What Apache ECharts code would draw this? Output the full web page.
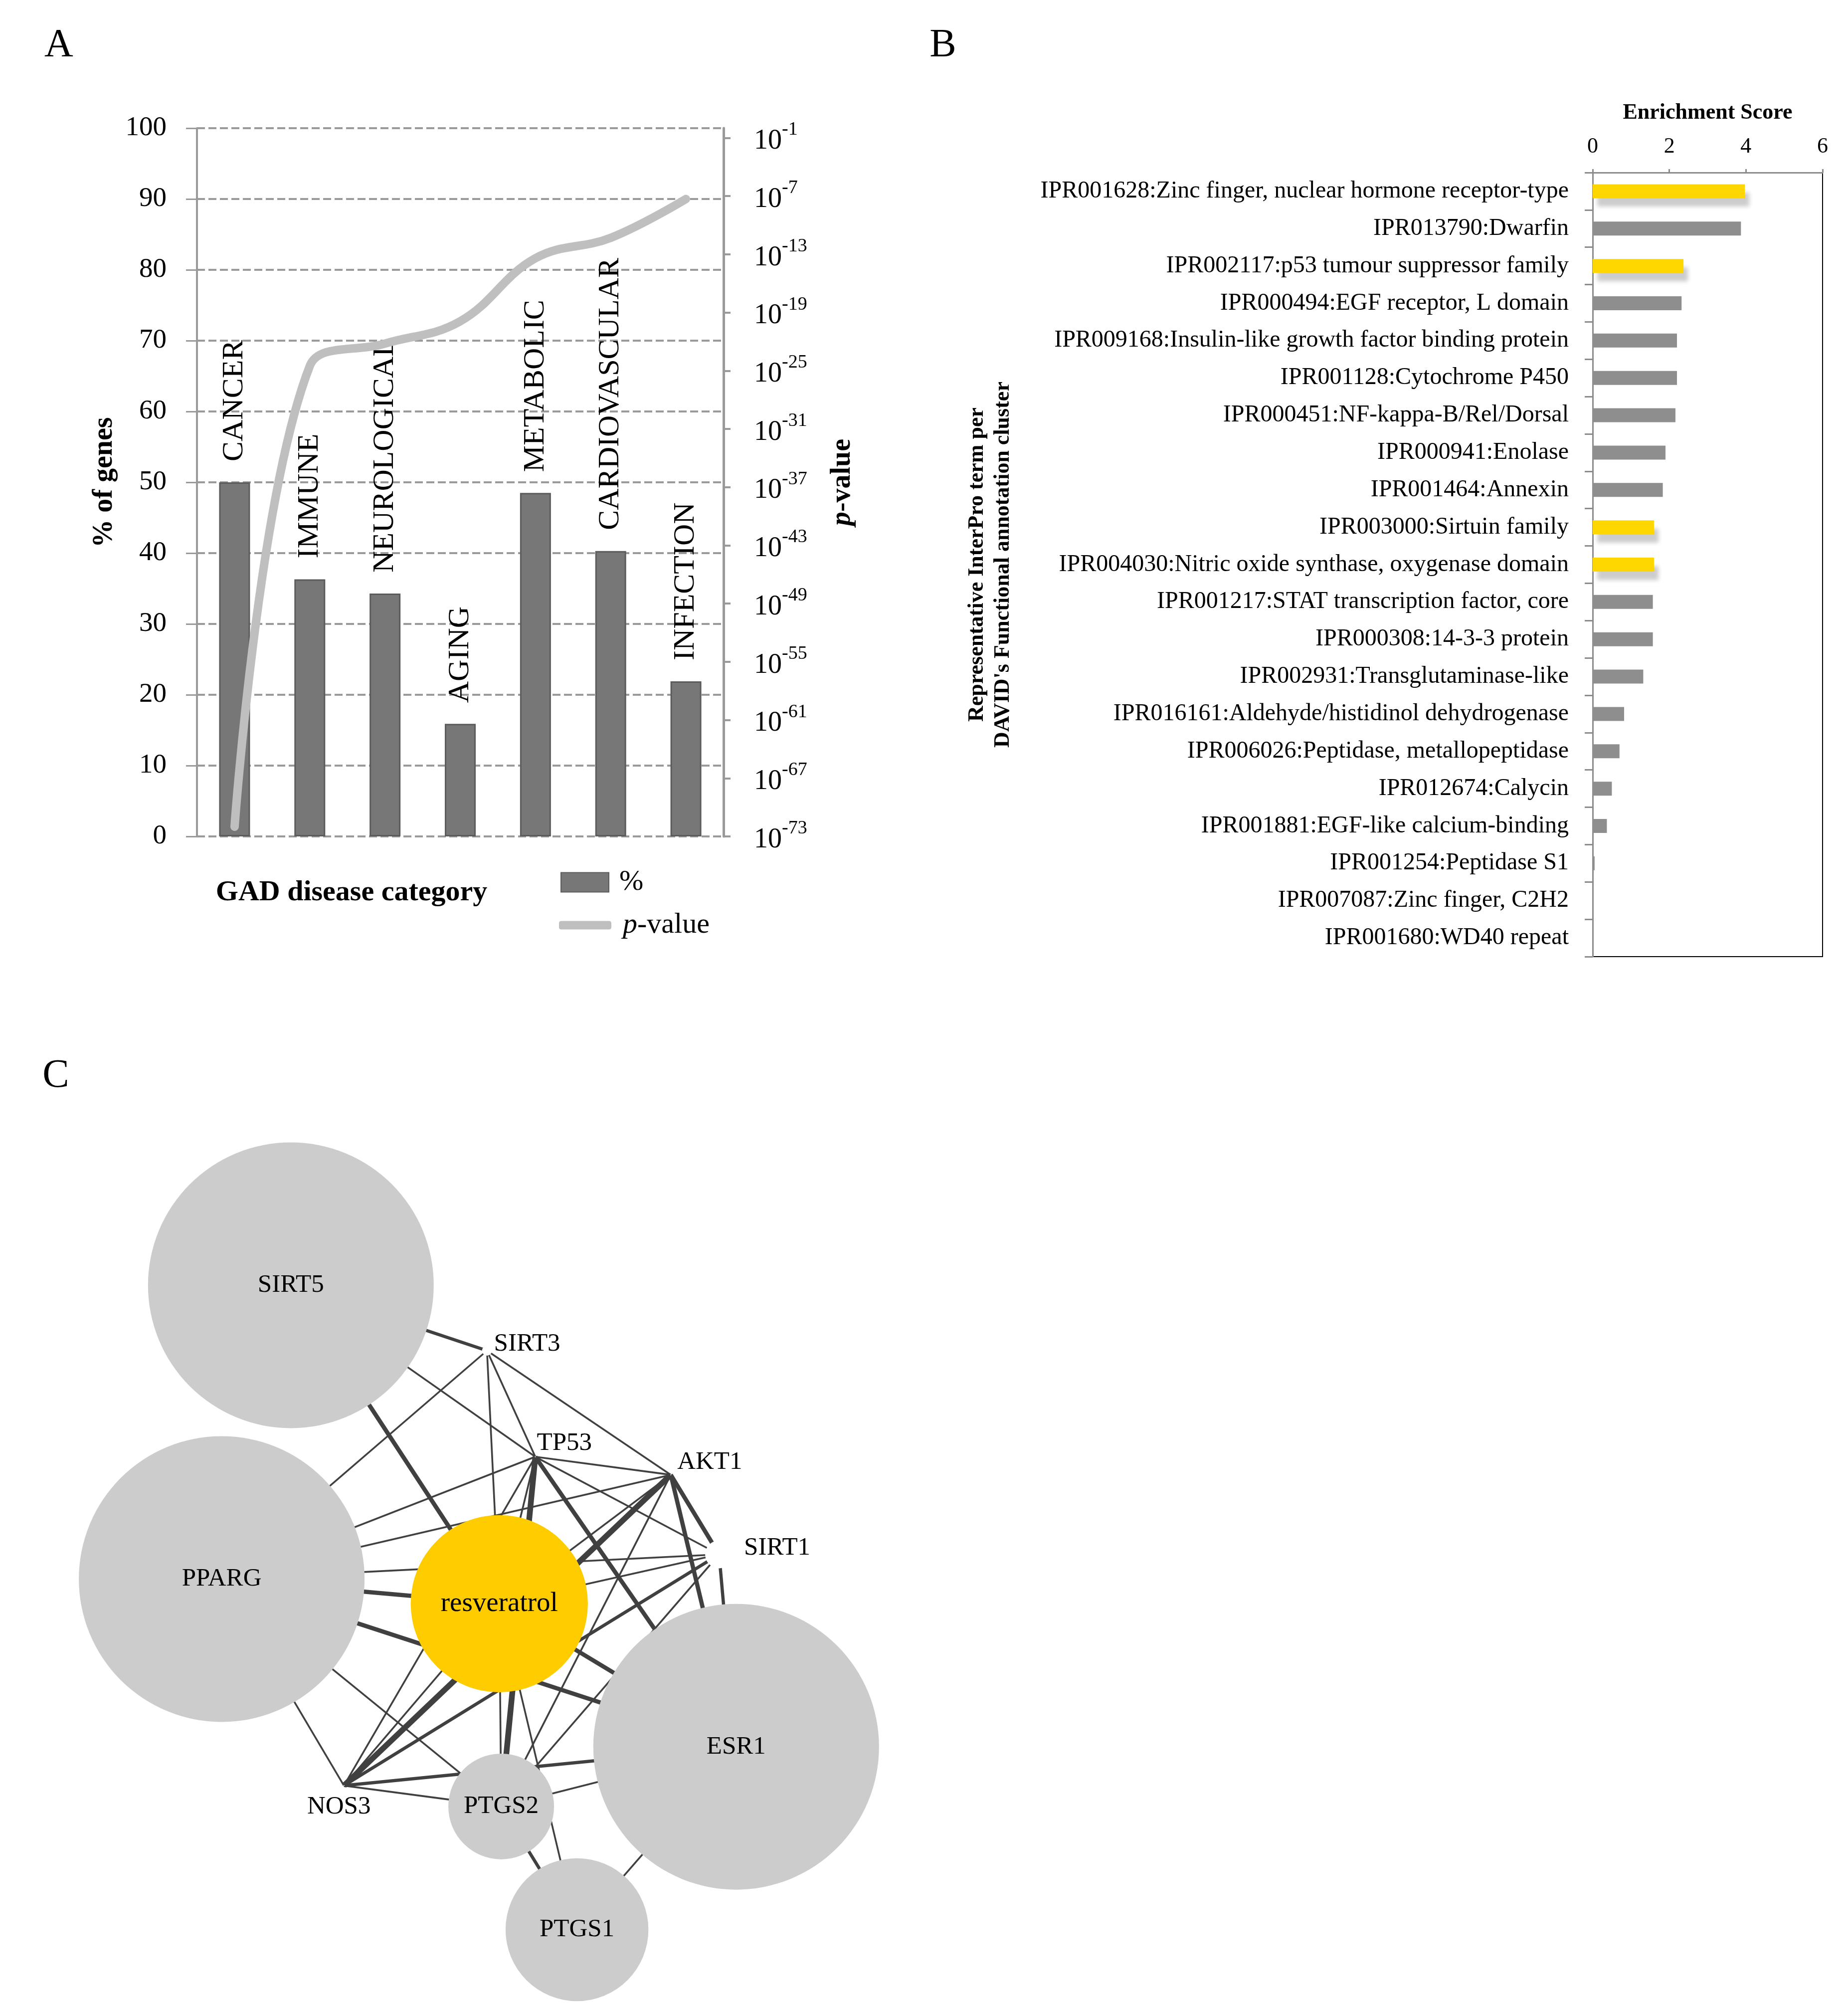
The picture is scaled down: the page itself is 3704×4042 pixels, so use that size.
<!DOCTYPE html>
<html><head><meta charset="utf-8">
<script src="https://cdn.jsdelivr.net/npm/echarts@6/dist/echarts.min.js"></script>
<style>html,body{margin:0;padding:0;background:#fff}#c{width:3704px;height:4042px}</style>
</head><body><div id="c"></div>
<script>
// ---------- Panel A data ----------
const gadCategories = ['CANCER','IMMUNE','NEUROLOGICAL','AGING','METABOLIC','CARDIOVASCULAR','INFECTION'];
const gadPercent = [50.0, 36.3, 34.3, 15.9, 48.5, 40.3, 21.9];
const gadLogP = [-72, -24.5, -22.2, -19.9, -13.4, -11.3, -7.3];   // log10(p-value)
const pTicks = [-73, -67, -61, -55, -49, -43, -37, -31, -25, -19, -13, -7, -1];

// ---------- Panel B data ----------
const iprTerms = [
  'IPR001628:Zinc finger, nuclear hormone receptor-type',
  'IPR013790:Dwarfin',
  'IPR002117:p53 tumour suppressor family',
  'IPR000494:EGF receptor, L domain',
  'IPR009168:Insulin-like growth factor binding protein',
  'IPR001128:Cytochrome P450',
  'IPR000451:NF-kappa-B/Rel/Dorsal',
  'IPR000941:Enolase',
  'IPR001464:Annexin',
  'IPR003000:Sirtuin family',
  'IPR004030:Nitric oxide synthase, oxygenase domain',
  'IPR001217:STAT transcription factor, core',
  'IPR000308:14-3-3 protein',
  'IPR002931:Transglutaminase-like',
  'IPR016161:Aldehyde/histidinol dehydrogenase',
  'IPR006026:Peptidase, metallopeptidase',
  'IPR012674:Calycin',
  'IPR001881:EGF-like calcium-binding',
  'IPR001254:Peptidase S1',
  'IPR007087:Zinc finger, C2H2',
  'IPR001680:WD40 repeat'
];
const iprScores = [3.97, 3.87, 2.37, 2.32, 2.2, 2.2, 2.16, 1.9, 1.83, 1.6, 1.6, 1.57, 1.57, 1.32, 0.82, 0.7, 0.5, 0.37, 0.05, 0, 0];
const iprHighlighted = ['IPR001628:Zinc finger, nuclear hormone receptor-type', 'IPR002117:p53 tumour suppressor family', 'IPR003000:Sirtuin family', 'IPR004030:Nitric oxide synthase, oxygenase domain'];

// ---------- Panel C data (network, layout units 0-100) ----------
const netNodes  = ['SIRT5', 'PPARG', 'resveratrol', 'ESR1', 'PTGS2', 'PTGS1', 'SIRT3', 'TP53', 'AKT1', 'SIRT1', 'NOS3'];
const netX      = [30.7, 23.4, 52.7, 77.7, 52.9, 60.9, 51.4, 56.5, 70.8, 75.9, 36.3];
const netY      = [25.1, 56.1, 58.7, 73.8, 80.1, 93.1, 32.0, 43.2, 45.1, 53.5, 77.9];
const netWeight = [100, 100, 62, 100, 37, 50, 0, 0, 0, 0, 0];
const netLinks = [
  ['SIRT5','SIRT3',2], ['SIRT5','TP53',1], ['SIRT5','resveratrol',3],
  ['SIRT3','PPARG',1], ['SIRT3','TP53',1], ['SIRT3','resveratrol',1], ['SIRT3','AKT1',1],
  ['TP53','PPARG',1], ['TP53','AKT1',1], ['TP53','SIRT1',1], ['TP53','resveratrol',1],
  ['TP53','PTGS2',4], ['TP53','ESR1',3], ['TP53','NOS3',1],
  ['AKT1','PPARG',1], ['AKT1','resveratrol',1], ['AKT1','NOS3',4], ['AKT1','SIRT1',3],
  ['AKT1','ESR1',3], ['AKT1','PTGS2',1],
  ['PPARG','resveratrol',3], ['PPARG','ESR1',3], ['PPARG','SIRT1',1], ['PPARG','NOS3',1], ['PPARG','PTGS2',1],
  ['SIRT1','resveratrol',1], ['SIRT1','NOS3',2], ['SIRT1','PTGS2',1], ['SIRT1','ESR1',2],
  ['NOS3','resveratrol',1], ['NOS3','PTGS2',1], ['NOS3','ESR1',2],
  ['PTGS2','resveratrol',1], ['PTGS2','ESR1',1], ['PTGS2','PTGS1',2],
  ['PTGS1','resveratrol',1], ['PTGS1','ESR1',1], ['ESR1','resveratrol',3]
];

// ---------- styling ----------
const SERIF = '"Liberation Serif", "Times New Roman", serif';
const AX = '#9a9a9a';
const edgeWidth = {1: 3.6, 2: 6.5, 3: 8.5, 4: 11.5};
const smallNodeStyle = {
  SIRT3: {size: 20, label: {position: 'right', distance: 4, offset: [0, -13]}},
  TP53:  {size: 2,  label: {position: 'right', distance: 2, offset: [0, -27]}},
  AKT1:  {size: 2,  label: {position: 'right', distance: 12, offset: [0, -25]}},
  SIRT1: {size: 56, label: {position: 'right', distance: 22, offset: [0, -13]}},
  NOS3:  {size: 2,  label: {position: 'bottom', distance: 16, offset: [-10, 0]}}
};

const chart = echarts.init(document.getElementById('c'), null, {renderer: 'canvas', width: 3704, height: 4042});

const graphNodes = netNodes.map((n, i) => {
  const w = netWeight[i];
  const node = {name: n, value: [netX[i], netY[i]]};
  if (w > 0) {
    node.symbolSize = w * 5.73;
    node.itemStyle = {color: n === 'resveratrol' ? '#ffcc00' : '#cccccc'};
    node.label = {show: true, position: 'inside', fontSize: n === 'resveratrol' ? 55 : 51};
  } else {
    const s = smallNodeStyle[n];
    node.symbolSize = s.size;
    node.itemStyle = {color: '#ffffff'};
    node.label = Object.assign({show: true, fontSize: 51}, s.label);
  }
  return node;
});

const option = {
  backgroundColor: '#ffffff',
  animation: false,
  textStyle: {fontFamily: SERIF, color: '#000'},
  grid: [
    {left: 395, top: 257, width: 1056, height: 1420, outerBoundsMode: 'none', containLabel: false},
    {left: 3194, top: 346, width: 461, height: 1572, show: true, borderColor: '#000', borderWidth: 2,
     backgroundColor: 'transparent', outerBoundsMode: 'none', containLabel: false},
    {left: 0, top: 2100, width: 1900, height: 1900, outerBoundsMode: 'none', containLabel: false}
  ],
  xAxis: [
    {gridIndex: 0, type: 'category', data: gadCategories,
     axisLine: {show: false}, axisTick: {show: false}, axisLabel: {show: false}, splitLine: {show: false}},
    {gridIndex: 1, type: 'value', position: 'top', min: 0, max: 6, interval: 2,
     axisLine: {show: true, lineStyle: {color: '#8c8c8c', width: 3}},
     axisTick: {show: true, length: 7, lineStyle: {color: '#8c8c8c', width: 3}},
     axisLabel: {fontSize: 44, margin: 30, color: '#000', fontFamily: SERIF},
     splitLine: {show: false},
     name: 'Enrichment Score', nameLocation: 'middle', nameGap: 97,
     nameTextStyle: {fontSize: 44, fontWeight: 'bold', color: '#000', fontFamily: SERIF}},
    {gridIndex: 2, type: 'value', min: 0, max: 100, show: false}
  ],
  yAxis: [
    {gridIndex: 0, type: 'value', min: 0, max: 100, interval: 10,
     axisLine: {show: true, lineStyle: {color: AX, width: 4}},
     axisTick: {show: true, length: 22, lineStyle: {color: AX, width: 3}},
     axisLabel: {fontSize: 55, margin: 61, color: '#000', fontFamily: SERIF},
     splitLine: {show: true, lineStyle: {color: AX, width: 4, type: [16, 7]}},
     name: '% of genes', nameLocation: 'middle', nameGap: 157, nameRotate: 90,
     nameTextStyle: {fontSize: 56, fontWeight: 'bold', color: '#000', fontFamily: SERIF}},
    {gridIndex: 0, type: 'value', min: -73, max: 0, position: 'right',
     axisLine: {show: true, lineStyle: {color: AX, width: 5}},
     axisTick: {show: true, length: 14, customValues: pTicks, lineStyle: {color: AX, width: 4}},
     axisLabel: {customValues: pTicks, margin: 61, color: '#000', fontFamily: SERIF,
       formatter: v => '{b|10}{s|' + v + '}',
       rich: {b: {fontSize: 56, fontFamily: SERIF, color: '#000', padding: [14, 0, 0, 0]},
              s: {fontSize: 38, fontFamily: SERIF, color: '#000', verticalAlign: 'top'}}},
     splitLine: {show: false},
     name: '{i|p}-value', nameLocation: 'middle', nameGap: 211, nameRotate: 90,
     nameTextStyle: {fontSize: 56, fontWeight: 'bold', color: '#000', fontFamily: SERIF,
       rich: {i: {fontSize: 56, fontWeight: 'bold', fontStyle: 'italic', fontFamily: SERIF, color: '#000'}}}},
    {gridIndex: 1, type: 'category', inverse: true, data: iprTerms,
     axisLine: {show: true, lineStyle: {color: '#8c8c8c', width: 3}},
     axisTick: {show: true, length: 16, lineStyle: {color: '#8c8c8c', width: 3}},
     axisLabel: {fontSize: 48, margin: 48, color: '#000', fontFamily: SERIF, interval: 0},
     splitLine: {show: false},
     name: 'Representative InterPro term per\nDAVID\'s Functional annotation cluster',
     nameLocation: 'middle', nameGap: 1156, nameRotate: 90,
     nameTextStyle: {fontSize: 44, fontWeight: 'bold', color: '#000', fontFamily: SERIF, lineHeight: 52}},
    {gridIndex: 2, type: 'value', min: 0, max: 100, inverse: true, show: false}
  ],
  legend: [
    {data: ['%'], orient: 'vertical', left: 1124, top: 1740, itemWidth: 96, itemHeight: 39, icon: 'rect',
     selectedMode: false, padding: 0,
     textStyle: {fontSize: 58, fontFamily: SERIF, color: '#000', padding: [0, 0, 0, 16]}},
    {data: ['p-value'], orient: 'vertical', left: 1121, top: 1826, itemWidth: 105, itemHeight: 17, icon: 'roundRect',
     selectedMode: false, padding: 0,
     formatter: () => '{i|p}-value',
     textStyle: {fontSize: 58, fontFamily: SERIF, color: '#000', padding: [0, 0, 0, 18],
       rich: {i: {fontSize: 58, fontStyle: 'italic', fontFamily: SERIF, color: '#000'}}}}
  ],
  graphic: [
    {type: 'text', x: 118, y: 92, style: {text: 'A', fontSize: 80, fontFamily: SERIF, fill: '#000',
      align: 'center', verticalAlign: 'middle', textAlign: 'center', textVerticalAlign: 'middle'}},
    {type: 'text', x: 1891, y: 92, style: {text: 'B', fontSize: 80, fontFamily: SERIF, fill: '#000',
      align: 'center', verticalAlign: 'middle', textAlign: 'center', textVerticalAlign: 'middle'}},
    {type: 'text', x: 112, y: 2158, style: {text: 'C', fontSize: 80, fontFamily: SERIF, fill: '#000',
      align: 'center', verticalAlign: 'middle', textAlign: 'center', textVerticalAlign: 'middle'}},
    {type: 'text', x: 705, y: 1790, style: {text: 'GAD disease category', fontSize: 58, fontWeight: 'bold',
      fontFamily: SERIF, fill: '#000', align: 'center', verticalAlign: 'middle', textAlign: 'center', textVerticalAlign: 'middle'}}
  ],
  series: [
    {name: '%', type: 'bar', xAxisIndex: 0, yAxisIndex: 0, data: gadPercent, barWidth: 62,
     itemStyle: {color: '#777777', borderColor: '#5c5c5c', borderWidth: 3},
     label: {show: true, formatter: '{b}', position: 'top', rotate: 90, align: 'left', verticalAlign: 'middle',
       distance: 42, fontSize: 60, color: '#000', fontFamily: SERIF},
     emphasis: {disabled: true}, silent: true, z: 2},
    {name: 'p-value', type: 'line', xAxisIndex: 0, yAxisIndex: 1, data: gadLogP, smooth: 0.4,
     symbol: 'none', color: '#bfbfbf', itemStyle: {color: '#bfbfbf'},
     lineStyle: {color: '#bfbfbf', width: 17, cap: 'round', join: 'round'},
     emphasis: {disabled: true}, silent: true, z: 3},
    {name: 'Enrichment', type: 'bar', xAxisIndex: 1, yAxisIndex: 2, barWidth: 28,
     data: iprScores.map((v, i) => {
       const hl = iprHighlighted.indexOf(iprTerms[i]) >= 0;
       return hl ? {value: v, itemStyle: {color: '#ffd700', shadowColor: 'rgba(0,0,0,0.2)', shadowBlur: 8,
                   shadowOffsetX: 9, shadowOffsetY: 17}}
                 : {value: v, itemStyle: {color: '#8e8e8e'}};
     }),
     emphasis: {disabled: true}, silent: true},
    {name: 'network', type: 'graph', coordinateSystem: 'cartesian2d', xAxisIndex: 2, yAxisIndex: 3,
     layout: 'none', data: graphNodes,
     links: netLinks.map(l => ({source: l[0], target: l[1], lineStyle: {width: edgeWidth[l[2]]}})),
     lineStyle: {color: '#404040', opacity: 1, curveness: 0},
     label: {color: '#000', fontFamily: SERIF},
     edgeSymbol: ['none', 'none'],
     emphasis: {disabled: true}, silent: true, roam: false}
  ]
};
chart.setOption(option);
</script>
</body></html>
